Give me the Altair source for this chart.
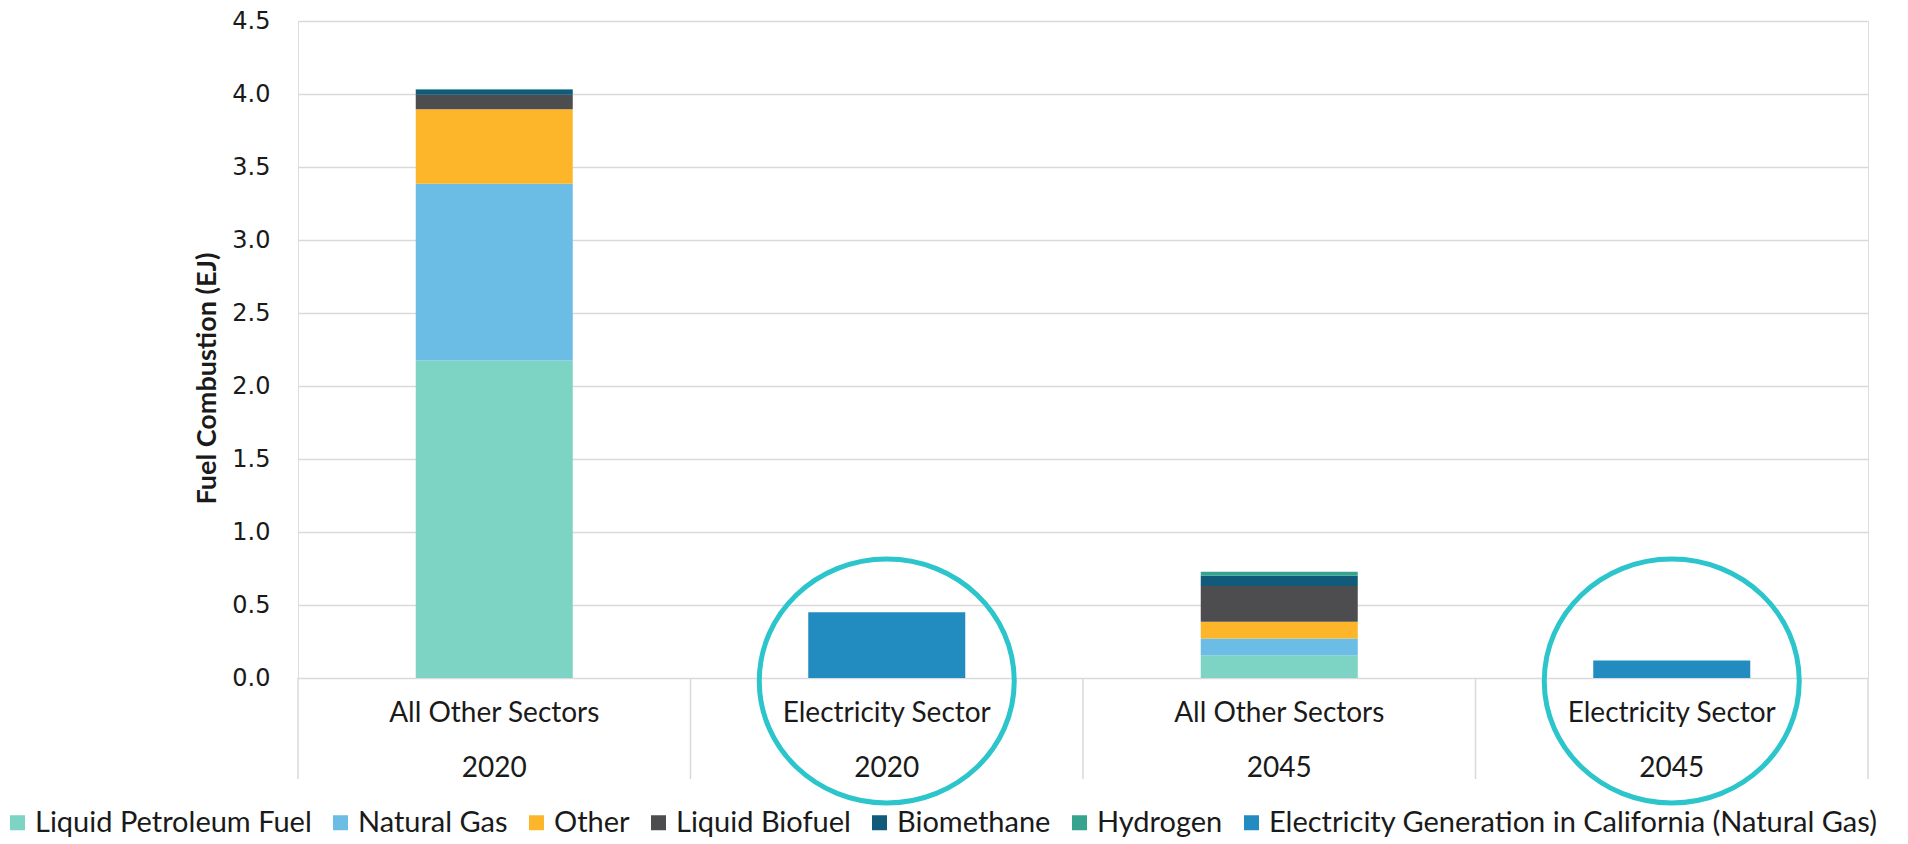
import altair as alt
import pandas as pd

categories = ["All Other Sectors|2020", "Electricity Sector|2020",
              "All Other Sectors|2045", "Electricity Sector|2045"]
fuels = ["Liquid Petroleum Fuel", "Natural Gas", "Other", "Liquid Biofuel",
         "Biomethane", "Hydrogen",
         "Electricity Generation in California (Natural Gas)"]
colors = ["#7DD3C4", "#6BBDE6", "#FDB62A", "#4D4D4F", "#115A7A", "#36A38E", "#228BBF"]

other_2020 = [2.175, 1.21, 0.51, 0.10, 0.035, 0.005, 0.0]
elec_2020 = [0.0, 0.0, 0.0, 0.0, 0.0, 0.0, 0.45]
other_2045 = [0.155, 0.115, 0.115, 0.245, 0.07, 0.027, 0.0]
elec_2045 = [0.0, 0.0, 0.0, 0.0, 0.0, 0.0, 0.12]
series = [other_2020, elec_2020, other_2045, elec_2045]

circled = ["Electricity Sector|2020", "Electricity Sector|2045"]
y_ticks = [0, 0.5, 1.0, 1.5, 2.0, 2.5, 3.0, 3.5, 4.0, 4.5]

rows = []
for cat, vals in zip(categories, series):
    for i, (f, v) in enumerate(zip(fuels, vals)):
        if v > 0:
            rows.append({"cat": cat, "fuel": f, "value": v, "ord": i})
df = pd.DataFrame(rows)

W, H = 1570, 657
step = W / len(categories)
FONT = "Lato"
ELLIPSE = "M -1 0 A 1 0.957 0 1 0 1 0 A 1 0.957 0 1 0 -1 0 Z"

xscale = alt.Scale(domain=categories, paddingInner=0.6, paddingOuter=0.3)

bars = alt.Chart(df).mark_bar().encode(
    x=alt.X("cat:N", scale=xscale, sort=categories, title=None,
            axis=alt.Axis(labelExpr="split(datum.label, '|')", labelLineHeight=55,
                          labelFontSize=28, labelColor="#1a1a1a", labelFont=FONT,
                          labelPadding=21, labelLimit=1000, ticks=False,
                          labelAlign="center", labelBaseline="top",
                          domain=False, grid=False, labelAngle=0)),
    y=alt.Y("value:Q", stack="zero",
            scale=alt.Scale(domain=[0, 4.5], nice=False),
            axis=alt.Axis(values=y_ticks, format=".1f", labelFontSize=24,
                          labelColor="#1a1a1a", labelFont="DejaVu Sans",
                          labelPadding=28, ticks=False, domain=False,
                          gridColor="#D9D9D9", gridWidth=1.5,
                          title="Fuel Combustion (EJ)", titleFontSize=27,
                          titleFont=FONT, titleFontWeight="bold",
                          titleColor="#1a1a1a", titleX=-91, titleY=357,
                          titleAlign="center", titleBaseline="middle",
                          titleAngle=-90)),
    color=alt.Color("fuel:N", scale=alt.Scale(domain=fuels, range=colors),
                    legend=alt.Legend(title=None, orient="none", direction="horizontal",
                                      legendX=-295, legendY=787, padding=0,
                                      symbolType="square",
                                      symbolSize=225, symbolStrokeWidth=0,
                                      labelFontSize=29, labelFont=FONT,
                                      labelColor="#1a1a1a", labelOffset=3,
                                      labelLimit=1000, columnPadding=14, columns=7)),
    order=alt.Order("ord:Q", sort="ascending"),
)

div_df = pd.DataFrame({"cat": categories})
dividers = alt.Chart(div_df).mark_rule(color="#D9D9D9", strokeWidth=1.5,
                                       xOffset=-step / 2).encode(
    x=alt.X("cat:N", scale=xscale, sort=categories),
    y=alt.value(H), y2=alt.value(H + 101),
)
end_df = pd.DataFrame({"cat": categories[-1:]})
end_divider = alt.Chart(end_df).mark_rule(color="#D9D9D9", strokeWidth=1.5,
                                          xOffset=step / 2).encode(
    x=alt.X("cat:N", scale=xscale, sort=categories),
    y=alt.value(H), y2=alt.value(H + 101),
)

circ_df = pd.DataFrame({"cat": circled, "base": [0.0, 0.0]})
circles = alt.Chart(circ_df).mark_point(shape=ELLIPSE, filled=False, size=65025,
                                        strokeWidth=5, color="#2BC5CB",
                                        opacity=1, yOffset=3).encode(
    x=alt.X("cat:N", scale=xscale, sort=categories),
    y=alt.Y("base:Q"),
)

chart = alt.layer(dividers, end_divider, bars, circles).properties(
    width=W, height=H,
    autosize=alt.AutoSizeParams(type="none"),
    padding={"left": 290, "top": 13, "right": 30, "bottom": 166},
).configure_view(stroke=None).configure(font=FONT)

chart.save("out.html", embed_options={"renderer": "svg", "actions": False})
